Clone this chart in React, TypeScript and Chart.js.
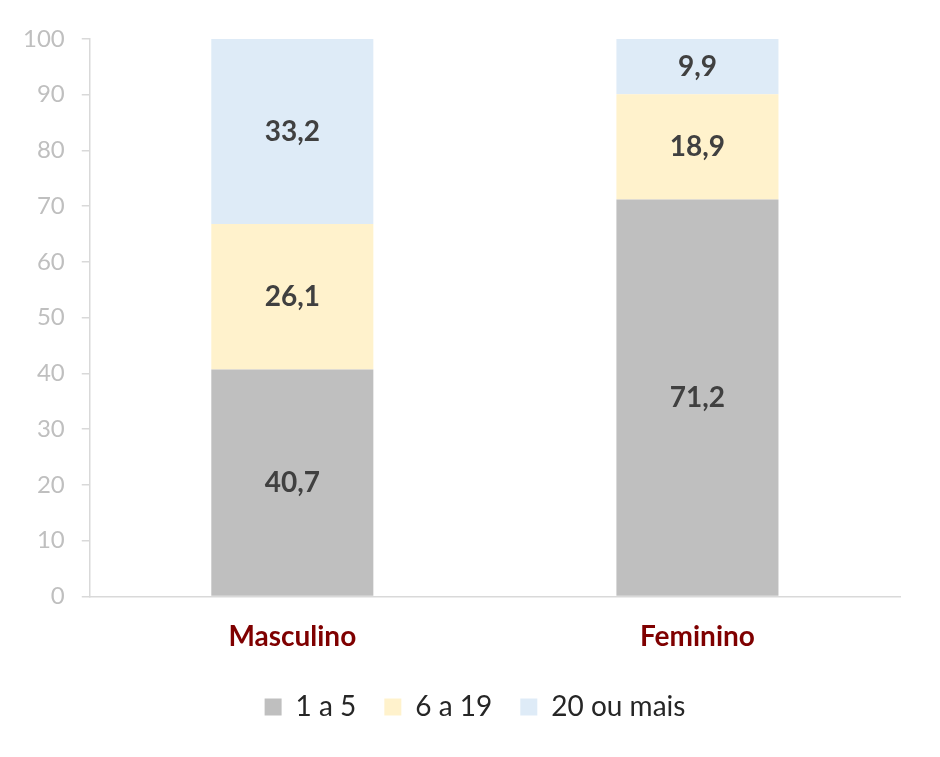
import React, { useEffect, useRef } from "react";
import { Chart, registerables } from "chart.js";

Chart.register(...registerables);

const categories = ["Masculino", "Feminino"];
const seriesNames = ["1 a 5", "6 a 19", "20 ou mais"];
const values1a5 = [40.7, 71.2];
const values6a19 = [26.1, 18.9];
const values20mais = [33.2, 9.9];
const yTicks = [0, 10, 20, 30, 40, 50, 60, 70, 80, 90, 100];

const colors = ["#bfbfbf", "#fff2cc", "#deebf7"];

const dataLabelPlugin = {
  id: "dataLabels",
  afterDatasetsDraw(chart: any) {
    const ctx = chart.ctx;
    ctx.save();
    ctx.font = "bold 28px Lato";
    ctx.fillStyle = "#404040";
    ctx.textAlign = "center";
    ctx.textBaseline = "middle";
    chart.data.datasets.forEach((ds: any, i: number) => {
      const meta = chart.getDatasetMeta(i);
      meta.data.forEach((bar: any, j: number) => {
        const v = ds.data[j];
        const y = (bar.y + bar.base) / 2;
        ctx.fillText(String(v).replace(".", ","), bar.x, y);
      });
    });
    ctx.restore();
  },
};

const legendShiftPlugin = {
  id: "legendShift",
  afterLayout(chart: any) {
    const lg = chart.legend;
    if (lg) {
      lg.left += 22;
      lg.right += 22;
    }
  },
};

export default function App() {
  const ref = useRef<HTMLCanvasElement>(null);
  useEffect(() => {
    document.body.style.margin = "0";
    const chart = new Chart(ref.current!, {
      type: "bar",
      data: {
        labels: categories,
        datasets: [values1a5, values6a19, values20mais].map((d, i) => ({
          label: seriesNames[i],
          data: d,
          backgroundColor: colors[i],
          barPercentage: 0.8,
          categoryPercentage: 0.5,
        })),
      },
      options: {
        animation: false,
        responsive: false,
        maintainAspectRatio: false,
        layout: { padding: { left: 6, right: 40, top: 39, bottom: 26 } },
        plugins: {
          tooltip: { enabled: false },
          legend: {
            position: "bottom",
            labels: {
              boxWidth: 17,
              boxHeight: 17,
              padding: 28,
              color: "#262626",
              font: { family: "Lato", size: 28 },
            },
          },
        },
        scales: {
          x: {
            stacked: true,
            grid: { display: false, drawTicks: false },
            border: { display: true, color: "#d9d9d9", width: 1.5 },
            ticks: {
              color: "#7f0000",
              font: { family: "Lato", size: 28, weight: "bold" },
              padding: 24,
            },
            afterFit: (scale: any) => {
              scale.height = scale.height - 13;
            },
          },
          y: {
            stacked: true,
            min: 0,
            max: 100,
            afterBuildTicks: (axis: any) => {
              axis.ticks = yTicks.map((v) => ({ value: v }));
            },
            grid: {
              drawOnChartArea: false,
              drawTicks: true,
              tickLength: 8,
              color: "#d9d9d9",
              lineWidth: 1.5,
            },
            border: { display: true, color: "#d9d9d9", width: 1.5 },
            ticks: {
              color: "#bfbfbf",
              font: { family: "Lato", size: 24 },
              padding: 17,
            },
          },
        },
      },
      plugins: [dataLabelPlugin, legendShiftPlugin],
    });
    return () => chart.destroy();
  }, []);
  return (
    <div style={{ width: 940, height: 757 }}>
      <canvas ref={ref} width={940} height={757} />
    </div>
  );
}
